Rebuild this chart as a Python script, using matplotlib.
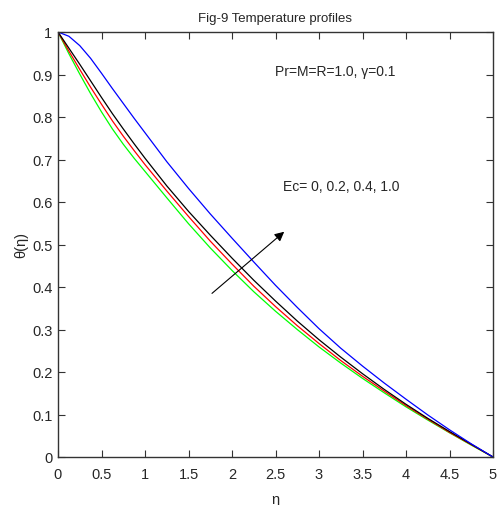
import matplotlib
matplotlib.use("Agg")
import matplotlib.pyplot as plt

eta = [0.0, 0.125, 0.25, 0.375, 0.5, 0.625, 0.75, 0.875, 1.0, 1.25, 1.5, 1.75, 2.0, 2.25, 2.5,
       2.75, 3.0, 3.25, 3.5, 3.75, 4.0, 4.25, 4.5, 4.75, 5.0]

theta_ec0 = [1.0, 0.949, 0.901, 0.855, 0.812, 0.772, 0.736, 0.703, 0.672, 0.610, 0.549, 0.492,
             0.439, 0.389, 0.343, 0.300, 0.259, 0.221, 0.185, 0.151, 0.118, 0.087, 0.057, 0.028, 0.0]
theta_ec02 = [1.0, 0.955, 0.912, 0.870, 0.830, 0.791, 0.755, 0.721, 0.688, 0.626, 0.566, 0.508,
              0.454, 0.402, 0.354, 0.309, 0.267, 0.227, 0.190, 0.155, 0.121, 0.089, 0.058, 0.029, 0.0]
theta_ec04 = [1.0, 0.962, 0.924, 0.885, 0.846, 0.808, 0.772, 0.737, 0.703, 0.638, 0.578, 0.522,
              0.468, 0.416, 0.367, 0.320, 0.276, 0.235, 0.196, 0.159, 0.124, 0.091, 0.060, 0.030, 0.0]
theta_ec10 = [1.0, 0.990, 0.968, 0.938, 0.903, 0.867, 0.832, 0.797, 0.763, 0.695, 0.632, 0.572,
              0.515, 0.459, 0.404, 0.352, 0.302, 0.256, 0.214, 0.174, 0.136, 0.099, 0.064, 0.031, 0.0]

xticks = [0, 0.5, 1, 1.5, 2, 2.5, 3, 3.5, 4, 4.5, 5]
xticklabels = ["0", "0.5", "1", "1.5", "2", "2.5", "3", "3.5", "4", "4.5", "5"]
yticks = [0, 0.1, 0.2, 0.3, 0.4, 0.5, 0.6, 0.7, 0.8, 0.9, 1.0]
yticklabels = ["0", "0.1", "0.2", "0.3", "0.4", "0.5", "0.6", "0.7", "0.8", "0.9", "1"]

plt.rcParams['font.family'] = ['Liberation Sans', 'DejaVu Sans']
fs = 10.5
tcol = '#262626'

fig = plt.figure(figsize=(5.01, 5.06), dpi=100)
ax = fig.add_axes([58/501, 48/506, 435/501, 425/506])

ax.plot(eta, theta_ec0, color='#00ff00', lw=0.9)
ax.plot(eta, theta_ec02, color='#ff0000', lw=0.9)
ax.plot(eta, theta_ec04, color='black', lw=0.9)
ax.plot(eta, theta_ec10, color='#0000ff', lw=0.9)

ax.set_xlim(0, 5)
ax.set_ylim(0, 1)
ax.set_xticks(xticks)
ax.set_xticklabels(xticklabels)
ax.set_yticks(yticks)
ax.set_yticklabels(yticklabels)
ax.tick_params(direction='in', length=5, width=0.8, top=True, right=True,
               labelsize=fs, labelcolor=tcol, colors='#333333')
ax.tick_params(axis='x', pad=7)
ax.tick_params(axis='y', pad=4)
for s in ax.spines.values():
    s.set_color('#333333')
    s.set_linewidth(1.0)

ax.set_title("Fig-9 Temperature profiles", fontsize=9.5, color=tcol, pad=8)
ax.set_xlabel("η", fontsize=fs, color=tcol, labelpad=8)
ax.set_ylabel("θ(η)", fontsize=fs, color=tcol, labelpad=3)

ax.text(2.49, 0.909, "Pr=M=R=1.0, γ=0.1", fontsize=10, color=tcol, va='center', ha='left')
ax.text(2.59, 0.638, "Ec= 0, 0.2, 0.4, 1.0", fontsize=10, color=tcol, va='center', ha='left')

ax.annotate("", xy=(2.60, 0.530), xytext=(1.77, 0.385),
            arrowprops=dict(arrowstyle='-|>', color='black', lw=0.8,
                            mutation_scale=14, shrinkA=0, shrinkB=0))

fig.savefig("out.png", dpi=100)
